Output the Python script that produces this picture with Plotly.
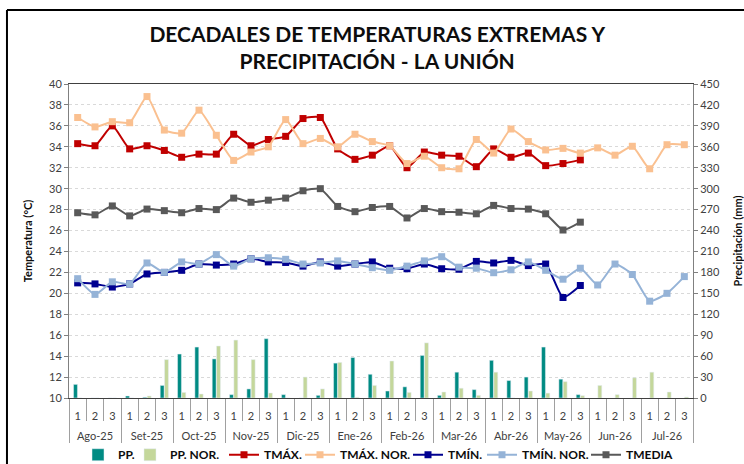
import plotly.graph_objects as go

months = ["Ago-25", "Set-25", "Oct-25", "Nov-25", "Dic-25", "Ene-26",
          "Feb-26", "Mar-26", "Abr-26", "May-26", "Jun-26", "Jul-26"]
decades = ["1", "2", "3"]

# precipitacion decadal (mm)
pp = [19.5, 0, 0, 2.9, 1.0, 18, 63, 73, 56, 4.8, 13, 85, 4.8, 0, 3.8,
      50, 58, 34, 10, 16, 61, 3.8, 37, 12, 54, 25, 30, 73, 27, 4.8]
pp_nor = [0, 0, 0, 0, 2.9, 55, 8, 5.7, 74.5, 83, 55, 7.2, 0, 30, 13,
          51, 1.0, 18, 53, 8, 79, 8.6, 14, 3.8, 37, 0, 10, 7, 23.4, 3.3,
          18, 4.8, 29, 37, 8.6, 1.4]

# temperaturas (°C)
tmax = [34.3, 34.1, 36.0, 33.8, 34.1, 33.65, 33.0, 33.3, 33.3, 35.2, 34.1, 34.7,
        35.0, 36.7, 36.8, 33.8, 32.8, 33.2, 34.1, 32.0, 33.5, 33.2, 33.1, 32.1,
        33.8, 33.0, 33.4, 32.2, 32.4, 32.75]
tmax_nor = [36.8, 35.9, 36.4, 36.3, 38.8, 35.6, 35.3, 37.5, 35.1, 32.7, 33.5, 34.0,
            36.6, 34.3, 34.8, 34.0, 35.2, 34.5, 34.1, 32.4, 33.1, 32.0, 31.9, 34.7,
            33.4, 35.7, 34.5, 33.7, 33.85, 33.4, 33.9, 33.2, 34.05, 31.9, 34.2, 34.2]
tmin = [21.0, 20.9, 20.6, 20.9, 21.85, 22.0, 22.2, 22.8, 22.7, 22.8, 23.3, 23.0,
        22.95, 22.6, 23.0, 22.6, 22.8, 23.0, 22.4, 22.35, 22.8, 22.35, 22.3, 23.05,
        22.9, 23.15, 22.65, 22.8, 19.6, 20.75]
tmin_nor = [21.4, 19.9, 21.1, 20.9, 22.9, 22.0, 23.0, 22.8, 23.7, 22.6, 23.3, 23.4,
            23.25, 22.8, 22.9, 23.1, 22.8, 22.45, 22.2, 22.6, 23.1, 23.5, 22.5, 22.4,
            21.97, 22.25, 23.0, 22.2, 21.35, 22.4, 20.8, 22.8, 21.8, 19.25, 20.0, 21.6]
tmedia = [27.7, 27.5, 28.35, 27.4, 28.05, 27.9, 27.7, 28.1, 28.0, 29.1, 28.7, 28.9,
          29.1, 29.8, 30.0, 28.3, 27.8, 28.2, 28.3, 27.2, 28.1, 27.8, 27.75, 27.6,
          28.4, 28.1, 28.05, 27.6, 26.05, 26.8]

n = len(months) * len(decades)
x = list(range(n))


def pad(s):
    return s + [None] * (n - len(s))


FONT = "Lato"
fig = go.Figure()

# one small legend per series so the bottom row stays compact like the original
legend_ids = ["legend", "legend2", "legend3", "legend4", "legend5", "legend6", "legend7"]
legend_text_x = [118, 170, 264, 340, 448, 522, 626]  # px where each label starts

fig.add_trace(go.Bar(x=x, y=pad(pp), name="PP.", marker_color="#008B83",
                     yaxis="y2", legend=legend_ids[0]))
fig.add_trace(go.Bar(x=x, y=pad(pp_nor), name="PP. NOR.", marker_color="#C4D79B",
                     yaxis="y2", legend=legend_ids[1]))

lines = [
    ("TMÁX.", tmax, "#C00000"),
    ("TMÁX. NOR.", tmax_nor, "#FAC090"),
    ("TMÍN.", tmin, "#000090"),
    ("TMÍN. NOR.", tmin_nor, "#95B3D7"),
    ("TMEDIA", tmedia, "#595959"),
]
for k, (name, vals, col) in enumerate(lines):
    fig.add_trace(go.Scatter(
        x=x, y=pad(vals), name=name, mode="lines+markers", legend=legend_ids[k + 2],
        line=dict(color=col, width=2, shape="spline", smoothing=0.5),
        marker=dict(symbol="square", size=7, color=col),
    ))

# invisible trace so the month axis gets drawn
fig.add_trace(go.Scatter(x=[0], y=[None], xaxis="x2", showlegend=False,
                         hoverinfo="skip"))

month_centers = [i * 3 + 1 for i in range(len(months))]

leg_common = dict(orientation="h", xref="container", yref="container",
                  xanchor="left", yanchor="middle", y=0.02,
                  font=dict(size=12, color="#0d0d0d", weight="bold"),
                  itemwidth=30, bgcolor="rgba(0,0,0,0)")
legends = {lid: dict(leg_common, x=(tx - 40) / 744)
           for lid, tx in zip(legend_ids, legend_text_x)}

fig.update_layout(
    width=744, height=464,
    paper_bgcolor="white", plot_bgcolor="white",
    font=dict(family=FONT, size=11, color="#404040"),
    margin=dict(l=69, r=51, t=84, b=66, autoexpand=False),
    barmode="group", bargap=0.5, bargroupgap=0.1,
    title=dict(
        text="DECADALES DE TEMPERATURAS EXTREMAS Y<br>PRECIPITACIÓN - LA UNIÓN",
        x=0.507, xanchor="center", y=0.91, yanchor="top",
        font=dict(family=FONT, size=21, color="#0d0d0d", weight="bold"),
    ),
    xaxis=dict(
        range=[-0.5, n - 0.5], tickmode="array", tickvals=x,
        ticktext=decades * len(months), ticks="", ticklabelstandoff=8,
        showline=True, linecolor="#404040", linewidth=1, mirror=True,
        showgrid=False, zeroline=False,
        tickfont=dict(size=11, color="#404040"),
        minor=dict(tickmode="array", tickvals=[i - 0.5 for i in range(n + 1)],
                   ticks="outside", ticklen=22, tickcolor="#a0a0a0", tickwidth=1,
                   showgrid=False),
    ),
    xaxis2=dict(
        overlaying="x", anchor="y", side="bottom",
        range=[-0.5, n - 0.5], tickmode="array", tickvals=month_centers,
        ticktext=months, ticks="", ticklabelstandoff=30,
        showline=False, showgrid=False, zeroline=False,
        tickfont=dict(size=11, color="#404040"),
        minor=dict(tickmode="array", tickvals=[i * 3 - 0.5 for i in range(len(months) + 1)],
                   ticks="outside", ticklen=44, tickcolor="#a0a0a0", tickwidth=1,
                   showgrid=False),
    ),
    yaxis=dict(
        range=[10, 40], dtick=2, tick0=10,
        showgrid=True, gridcolor="#d9d9d9", griddash="dot", gridwidth=1,
        showline=True, linecolor="#808080", ticks="outside", ticklen=4,
        tickcolor="#808080", zeroline=False,
        title=dict(text="Temperatura (°C)", standoff=14,
                   font=dict(size=11, color="#0d0d0d", weight="bold")),
    ),
    yaxis2=dict(
        overlaying="y", side="right", range=[0, 450], dtick=30, tick0=0,
        showgrid=False, showline=True, linecolor="#808080", ticks="outside",
        ticklen=4, tickcolor="#808080", zeroline=False,
        title=dict(text="Precipitación (mm)", standoff=16,
                   font=dict(size=11, color="#0d0d0d", weight="bold")),
    ),
    shapes=[
        dict(type="line", xref="paper", yref="paper", x0=-0.0994, x1=1.2,
             y0=1.2357, y1=1.2357, line=dict(color="black", width=2)),
        dict(type="line", xref="paper", yref="paper", x0=-0.0994, x1=-0.0994,
             y0=1.2357, y1=-0.3, line=dict(color="black", width=2)),
    ],
    **legends,
)

fig.write_html("out.html", config={"displayModeBar": False},
               post_script="document.body.style.margin='0';document.body.style.overflow='hidden';")
